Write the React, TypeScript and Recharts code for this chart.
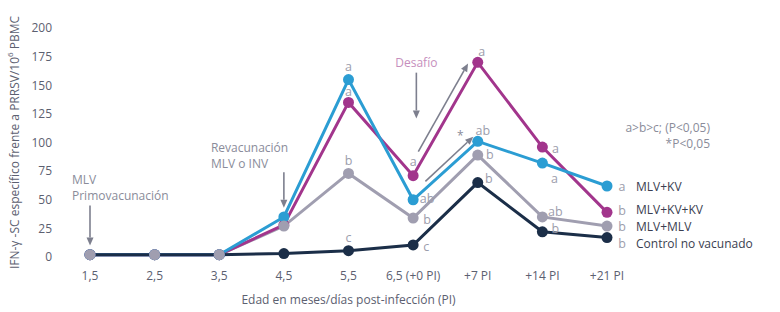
import React from "react";
import { LabelList, Line, LineChart, ReferenceDot, ReferenceLine, XAxis, YAxis } from "recharts";

// x categories (months of age / days post-infection)
const xLabels = ["1,5", "2,5", "3,5", "4,5", "5,5", "6,5 (+0 PI)", "+7 PI", "+14 PI", "+21 PI"];
const yTicks = [0, 25, 50, 75, 100, 125, 150, 175, 200];

// IFN-γ-SC per 10^6 PBMC
const mlvKv = [2, 2, 2, 35, 155, 50, 101, 82, 62];
const mlvKvKv = [2, 2, 2, 28, 135, 71, 170, 96, 39];
const mlvMlv = [2, 2, 2, 27, 73, 34, 89, 35, 27];
const control = [2, 2, 2, 3, 5.5, 10.5, 65, 22, 17];

// significance letters per point
const mlvKvLetters = ["", "", "", "", "a", "ab", "ab", "a", "a"];
const mlvKvKvLetters = ["", "", "", "", "a", "a", "a", "a", "b"];
const mlvMlvLetters = ["", "", "", "", "b", "b", "b", "ab", "b"];
const controlLetters = ["", "", "", "", "c", "c", "b", "b", "b"];

const seriesNames = ["MLV+KV", "MLV+KV+KV", "MLV+MLV", "Control no vacunado"];

const FONT = "'Open Sans', 'Noto Sans', sans-serif";
const LETTER_COLOR = "#9c9dac";
const NOTE_COLOR = "#8a8c9a";
const ARROW_COLOR = "#7d7f8e";
const TICK_COLOR = "#5c6070";

interface SeriesDef {
  key: string;
  name: string;
  color: string;
  letters: string[];
  // letter placement per index: [dx, dy]
  place: Array<[number, number]>;
  nameDy: number;
}

const SERIES: SeriesDef[] = [
  {
    key: "mlvKv",
    name: seriesNames[0],
    color: "#2b9dd3",
    letters: mlvKvLetters,
    place: [[0, 0], [0, 0], [0, 0], [0, 0], [0, -13], [14, -1], [5, -11], [12, 15], [15, 0]],
    nameDy: 0
  },
  {
    key: "mlvKvKv",
    name: seriesNames[1],
    color: "#a2358c",
    letters: mlvKvKvLetters,
    place: [[0, 0], [0, 0], [0, 0], [0, 0], [0, -11], [0, -14], [4, -11], [13, 1], [15, -2]],
    nameDy: -3
  },
  {
    key: "mlvMlv",
    name: seriesNames[2],
    color: "#a09eb0",
    letters: mlvMlvLetters,
    place: [[0, 0], [0, 0], [0, 0], [0, 0], [0, -13], [14, 1], [12, -1], [13, -5], [15, 0]],
    nameDy: 0
  },
  {
    key: "control",
    name: seriesNames[3],
    color: "#1b2e48",
    letters: controlLetters,
    place: [[0, 0], [0, 0], [0, 0], [0, 0], [0, -13], [13, 2], [11, -4], [13, -3], [15, 6]],
    nameDy: 6
  }
];

const chartData = xLabels.map((label, i) => ({
  i,
  label,
  mlvKv: mlvKv[i],
  mlvKvKv: mlvKvKv[i],
  mlvMlv: mlvMlv[i],
  control: control[i]
}));

// annotation arrows in data coordinates: [x1, y1, x2, y2]
const arrows: Array<[number, number, number, number]> = [
  [0, 45, 0, 10],
  [3, 74, 3, 43],
  [5.05, 161, 5.05, 121],
  [5.08, 92, 5.85, 169],
  [5.19, 66, 5.93, 105]
];

function Arrow(props: any) {
  const { x1, y1, x2, y2 } = props;
  if ([x1, y1, x2, y2].some((v) => typeof v !== "number")) return null;
  const ang = Math.atan2(y2 - y1, x2 - x1);
  const len = 8;
  const w = 3.5;
  const bx = x2 - len * Math.cos(ang);
  const by = y2 - len * Math.sin(ang);
  const px = -Math.sin(ang) * w;
  const py = Math.cos(ang) * w;
  return (
    <g>
      <line x1={x1} y1={y1} x2={bx} y2={by} stroke={ARROW_COLOR} strokeWidth={1.6} />
      <polygon points={`${x2},${y2} ${bx + px},${by + py} ${bx - px},${by - py}`} fill={ARROW_COLOR} />
    </g>
  );
}

function Note(props: {
  cx?: number;
  cy?: number;
  lines: string[];
  dx: number;
  dy: number;
  anchor: "start" | "middle" | "end";
  color: string;
}) {
  const { cx, cy, lines, dx, dy, anchor, color } = props;
  if (typeof cx !== "number" || typeof cy !== "number") return null;
  return (
    <g>
      {lines.map((line, k) => (
        <text
          key={k}
          x={cx + dx}
          y={cy + dy + k * 16}
          textAnchor={anchor}
          dominantBaseline="central"
          fontFamily={FONT}
          fontSize={12}
          fill={color}
        >
          {line}
        </text>
      ))}
    </g>
  );
}

function makeLetterLabel(s: SeriesDef) {
  return (props: any) => {
    const { x, y, index } = props;
    const letter = s.letters[index];
    if (!letter) return null;
    const [dx, dy] = s.place[index];
    const last = index === xLabels.length - 1;
    return (
      <g>
        <text
          x={x + dx}
          y={y + dy}
          textAnchor="middle"
          dominantBaseline="central"
          fontFamily={FONT}
          fontSize={12.5}
          fill={LETTER_COLOR}
        >
          {letter}
        </text>
        {last && (
          <text
            x={x + 29}
            y={y + s.nameDy}
            textAnchor="start"
            dominantBaseline="central"
            fontFamily={FONT}
            fontSize={12}
            fill="#3a3e50"
          >
            {s.name}
          </text>
        )}
      </g>
    );
  };
}

export default function App() {
  return (
    <div style={{ position: "absolute", left: 0, top: 0, width: 780, height: 312, background: "#fff" }}>
      <LineChart width={780} height={312} data={chartData} margin={{ top: 28, right: 173, bottom: 25, left: 0 }}>
        <XAxis
          dataKey="i"
          type="number"
          domain={[0, 8]}
          ticks={chartData.map((d) => d.i)}
          tickFormatter={(v: number) => xLabels[v]}
          padding={{ left: 35, right: 0 }}
          axisLine={false}
          tickLine={false}
          tickSize={0}
          tickMargin={14}
          height={30}
          tick={{ fill: TICK_COLOR, fontSize: 12, fontFamily: FONT }}
          label={{
            content: (p: any) => {
              const vb = p.viewBox;
              const cx = vb.x + 35 + (vb.width - 35) / 2;
              return (
                <text x={cx} y={299} textAnchor="middle" dominantBaseline="central" fontFamily={FONT} fontSize={12} fill={TICK_COLOR}>
                  Edad en meses/días post-infección (PI)
                </text>
              );
            }
          }}
        />
        <YAxis
          domain={[0, 200]}
          ticks={yTicks}
          width={55}
          axisLine={false}
          tickLine={false}
          tickSize={0}
          tickMargin={3}
          tick={{ fill: TICK_COLOR, fontSize: 12, fontFamily: FONT }}
          label={{
            content: (p: any) => {
              const vb = p.viewBox;
              const cy = vb.y + vb.height / 2;
              return (
                <text
                  x={14}
                  y={cy}
                  transform={`rotate(-90, 14, ${cy})`}
                  textAnchor="middle"
                  dominantBaseline="central"
                  fontFamily={FONT}
                  fontSize={12}
                  fill={TICK_COLOR}
                >
                  IFN-γ -SC específico frente a PRRSV/10
                  <tspan fontSize={8} dy={-5}>6</tspan>
                  <tspan dy={5}> PBMC</tspan>
                </text>
              );
            }
          }}
        />

        {arrows.map((a, k) => (
          <ReferenceLine
            key={`arrow-${k}`}
            segment={[{ x: a[0], y: a[1] }, { x: a[2], y: a[3] }]}
            ifOverflow="visible"
            shape={(p: any) => <Arrow {...p} />}
          />
        ))}

        <ReferenceDot x={0} y={45} ifOverflow="visible" shape={(p: any) => <Note {...p} lines={["MLV", "Primovacunación"]} dx={-18} dy={-26} anchor="start" color={NOTE_COLOR} />} />
        <ReferenceDot x={3} y={74} ifOverflow="visible" shape={(p: any) => <Note {...p} lines={["Revacunación", "MLV o INV"]} dx={-73} dy={-25} anchor="start" color={NOTE_COLOR} />} />
        <ReferenceDot x={5.05} y={161} ifOverflow="visible" shape={(p: any) => <Note {...p} lines={["Desafío"]} dx={0} dy={-10} anchor="middle" color="#c68fbd" />} />
        <ReferenceDot x={5.73} y={106} ifOverflow="visible" shape={(p: any) => <Note {...p} lines={["*"]} dx={0} dy={0} anchor="middle" color={NOTE_COLOR} />} />
        <ReferenceDot x={8} y={113} ifOverflow="visible" shape={(p: any) => <Note {...p} lines={["a>b>c; (P<0,05)", "*P<0,05"]} dx={103} dy={0} anchor="end" color={NOTE_COLOR} />} />

        {/* lines first, dots on top */}
        {[SERIES[2], SERIES[1], SERIES[0], SERIES[3]].map((s) => (
          <Line
            key={`line-${s.key}`}
            type="linear"
            dataKey={s.key}
            stroke={s.color}
            strokeWidth={3}
            dot={false}
            activeDot={false}
            isAnimationActive={false}
          />
        ))}
        {[SERIES[3], SERIES[1], SERIES[0], SERIES[2]].map((s) => (
          <Line
            key={`dots-${s.key}`}
            type="linear"
            dataKey={s.key}
            stroke="none"
            dot={{ r: 5.5, fill: s.color, stroke: "none" }}
            activeDot={false}
            isAnimationActive={false}
          >
            <LabelList dataKey={s.key} content={makeLetterLabel(s)} />
          </Line>
        ))}
      </LineChart>
    </div>
  );
}
